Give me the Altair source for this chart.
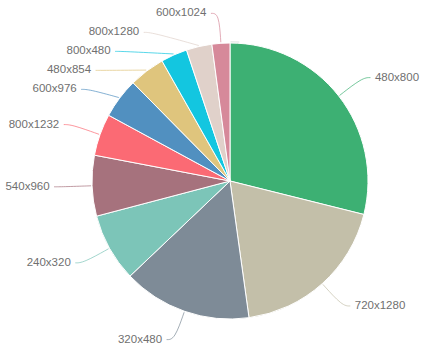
import math
import altair as alt
import pandas as pd

categories = ["480x800", "720x1280", "320x480", "240x320", "540x960", "800x1232",
              "600x976", "480x854", "800x480", "800x1280", "600x1024"]
values = [28.9, 18.9, 15.1, 8.0, 7.1, 4.9, 4.7, 4.2, 3.1, 3.0, 2.1]
colors = ["#3db073", "#c3bfa9", "#7e8b97", "#7cc5b8", "#a6727d", "#fb6a74",
          "#5190c0", "#dfc57d", "#13c6e0", "#e0d1ca", "#d6899a"]

CX, CY = 230, 181
R_PIE = 138
R_LBL = 168
GAP = 19

df = pd.DataFrame({"cat": categories, "val": values, "idx": list(range(len(values)))})

# label layout (computed from the data: mid-angle of each slice, then spread)
total = sum(values)
cum = 0.0
labels = []
for c, v in zip(categories, values):
    mid = (cum + v / 2) / total * 2 * math.pi
    cum += v
    side = 1 if math.sin(mid) >= 0 else -1
    labels.append({"cat": c, "mid": mid, "side": side,
                   "y": CY - R_LBL * math.cos(mid)})

for s in (1, -1):
    grp = sorted([l for l in labels if l["side"] == s], key=lambda d: d["y"])
    for i in range(1, len(grp)):
        grp[i]["y"] = max(grp[i]["y"], grp[i - 1]["y"] + GAP)

text_rows, line_rows = [], []
for l in labels:
    dy = l["y"] - CY
    x1 = CX + l["side"] * math.sqrt(max(R_LBL ** 2 - dy ** 2, 0))
    ex = CX + (R_PIE + 1) * math.sin(l["mid"])
    ey = CY - (R_PIE + 1) * math.cos(l["mid"])
    pts = [(ex, ey), (x1, l["y"]), (x1 + l["side"] * 8, l["y"])]
    for k, (px, py) in enumerate(pts):
        line_rows.append({"cat": l["cat"], "pt": k, "lx": px, "ly": py})
    text_rows.append({"cat": l["cat"], "tx": x1 + l["side"] * 12.5, "ty": l["y"],
                      "align": "left" if l["side"] > 0 else "right"})

lines_df = pd.DataFrame(line_rows)
text_df = pd.DataFrame(text_rows)

color = alt.Color("cat:N", scale=alt.Scale(domain=categories, range=colors), legend=None)

shadow = alt.Chart(pd.DataFrame({"v": [1]})).mark_arc(
    radius=140.5, color="#dde5e0", opacity=0.7
).encode(theta=alt.Theta("v:Q"), x=alt.value(CX + 0.5), y=alt.value(CY + 0.5))

pie = alt.Chart(df).mark_arc(radius=R_PIE, stroke="white", strokeWidth=1).encode(
    theta=alt.Theta("val:Q", stack=True),
    order=alt.Order("idx:Q"),
    color=color,
    x=alt.value(CX),
    y=alt.value(CY),
)

leaders = alt.Chart(lines_df).mark_line(interpolate="basis", strokeWidth=1, opacity=0.7).encode(
    x=alt.X("lx:Q", scale=None, axis=None),
    y=alt.Y("ly:Q", scale=None, axis=None),
    color=color,
    detail="cat:N",
    order=alt.Order("pt:Q"),
)

text_left = alt.Chart(text_df[text_df["align"] == "left"]).mark_text(
    align="left", baseline="middle", font="Liberation Sans", fontSize=11.5, color="#707070"
).encode(x=alt.X("tx:Q", scale=None, axis=None), y=alt.Y("ty:Q", scale=None, axis=None), text="cat:N")

text_right = alt.Chart(text_df[text_df["align"] == "right"]).mark_text(
    align="right", baseline="middle", font="Liberation Sans", fontSize=11.5, color="#707070"
).encode(x=alt.X("tx:Q", scale=None, axis=None), y=alt.Y("ty:Q", scale=None, axis=None), text="cat:N")

chart = alt.layer(shadow, leaders, pie, text_left, text_right).properties(
    width=432, height=353, padding=0, autosize=alt.AutoSizeParams(type="none")
).configure_view(stroke=None)

chart.save("out.html", embed_options={"renderer": "svg", "actions": False})
